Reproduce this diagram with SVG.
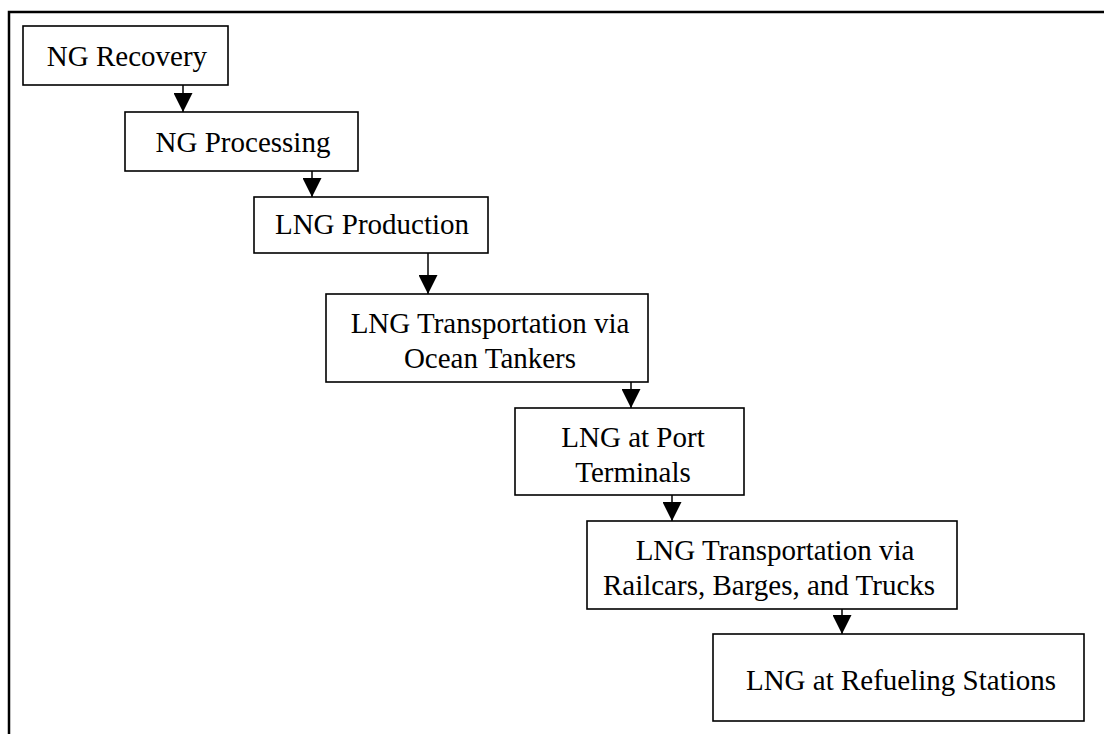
<svg xmlns="http://www.w3.org/2000/svg" width="1104" height="734" viewBox="0 0 1104 734">
<style>
.box{fill:#fff;stroke:#000;stroke-width:1.6}
.t{font-family:"Liberation Serif","Times New Roman",serif;font-size:29px;fill:#000;text-anchor:middle}
.c{stroke:#000;stroke-width:1.5;fill:none}
</style>
<defs>
<marker id="ah" markerUnits="userSpaceOnUse" markerWidth="20" markerHeight="19" refX="19" refY="9.5" orient="auto">
<path d="M0,0 L19,9.5 L0,19 Z" fill="#000"/>
</marker>
</defs>
<rect width="1104" height="734" fill="#fff"/>
<path d="M9,734 V12 H1104" fill="none" stroke="#000" stroke-width="2.5"/>
<g id="connectors">
<line class="c" x1="183" y1="85" x2="183" y2="112" marker-end="url(#ah)"/>
<line class="c" x1="312" y1="171" x2="312" y2="197" marker-end="url(#ah)"/>
<line class="c" x1="428" y1="253" x2="428" y2="294" marker-end="url(#ah)"/>
<line class="c" x1="631" y1="379" x2="631" y2="408" marker-end="url(#ah)"/>
<line class="c" x1="672" y1="493" x2="672" y2="521" marker-end="url(#ah)"/>
<line class="c" x1="842" y1="606" x2="842" y2="634" marker-end="url(#ah)"/>
</g>
<g id="n1"><rect class="box" x="23" y="26" width="205" height="59"/><text class="t" x="127" y="66">NG Recovery</text></g>
<g id="n2"><rect class="box" x="125" y="112" width="233" height="59"/><text class="t" x="243" y="152">NG Processing</text></g>
<g id="n3"><rect class="box" x="254" y="197" width="234" height="56"/><text class="t" x="372" y="234">LNG Production</text></g>
<g id="n4"><rect class="box" x="326" y="294" width="322" height="88"/><text class="t" x="490" y="333">LNG Transportation via</text><text class="t" x="490" y="368">Ocean Tankers</text></g>
<g id="n5"><rect class="box" x="515" y="408" width="229" height="87"/><text class="t" x="633" y="447">LNG at Port</text><text class="t" x="633" y="482">Terminals</text></g>
<g id="n6"><rect class="box" x="587" y="521" width="370" height="88"/><text class="t" x="775" y="560">LNG Transportation via</text><text class="t" x="769" y="595">Railcars, Barges, and Trucks</text></g>
<g id="n7"><rect class="box" x="713" y="634" width="371" height="87"/><text class="t" x="901" y="690">LNG at Refueling Stations</text></g>
</svg>
